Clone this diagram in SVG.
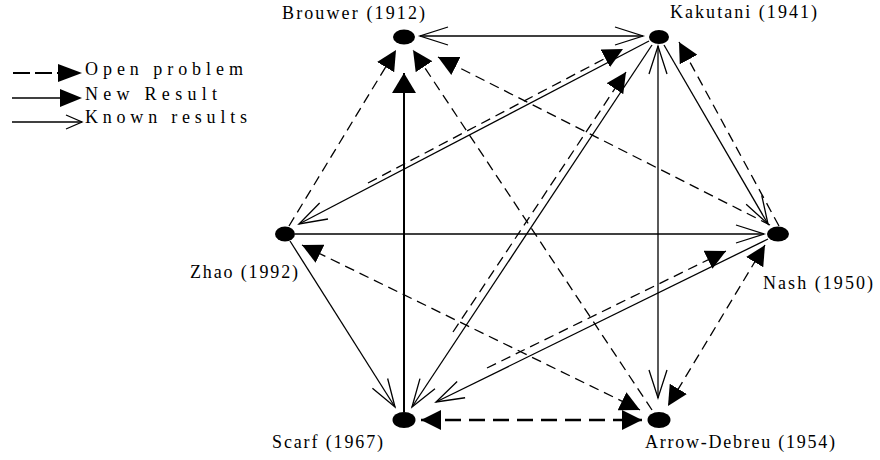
<svg xmlns="http://www.w3.org/2000/svg" width="880" height="460" viewBox="0 0 880 460">
<style>
.t{font-family:"Liberation Serif","Times New Roman",serif;font-size:18px;fill:#000}
.k{stroke:#000;stroke-width:1.3;fill:none}
.r{stroke:#000;stroke-width:2;fill:none}
.o{stroke:#000;stroke-width:1.3;fill:none;stroke-dasharray:10 6}
.ot{stroke:#000;stroke-width:2.6;fill:none;stroke-dasharray:16 8}
</style>
<defs>
<marker id="fa" markerUnits="userSpaceOnUse" viewBox="0 0 20 20" markerWidth="20" markerHeight="20" refX="20" refY="10" orient="auto-start-reverse"><path d="M0,0 L20,10 L0,20 z" fill="#000"/></marker>
<marker id="fb" markerUnits="userSpaceOnUse" viewBox="0 0 20 24" markerWidth="20" markerHeight="24" refX="20" refY="12" orient="auto"><path d="M0,0 L20,12 L0,24 z" fill="#000"/></marker>
<marker id="oa" markerUnits="userSpaceOnUse" viewBox="0 0 30 20" markerWidth="30" markerHeight="20" refX="28" refY="10" orient="auto-start-reverse" overflow="visible"><path d="M0,1 L28,10 L0,19" fill="none" stroke="#000" stroke-width="1.3"/></marker>
</defs>
<rect width="880" height="460" fill="#fff"/>
<g id="legend">
<line x1="13" y1="73" x2="60" y2="73" stroke="#000" stroke-width="2" stroke-dasharray="17 5"/>
<polygon points="58,64 82,73 58,82" fill="#000"/>
<text class="t" x="85" y="75" textLength="158" lengthAdjust="spacing">Open problem</text>
<line x1="12" y1="98" x2="62" y2="98" stroke="#000" stroke-width="1.6"/>
<polygon points="60,89 82,98 60,107" fill="#000"/>
<text class="t" x="85" y="100" textLength="132" lengthAdjust="spacing">New Result</text>
<line x1="12" y1="122" x2="82" y2="122" stroke="#000" stroke-width="1.3"/>
<polyline points="66,115 82,122 66,129" fill="none" stroke="#000" stroke-width="1.3"/>
<text class="t" x="85" y="123" textLength="162" lengthAdjust="spacing">Known results</text>
</g>
<g id="connectors">
<line class="k" x1="420" y1="36" x2="643" y2="36" marker-start="url(#oa)" marker-end="url(#oa)"/>
<line class="o" x1="289" y1="226" x2="396" y2="50" marker-end="url(#fa)"/>
<line class="r" x1="404" y1="412" x2="404" y2="73" marker-end="url(#fb)"/>
<line class="o" x1="652" y1="410" x2="413" y2="50" marker-end="url(#fa)"/>
<line class="o" x1="770" y1="225" x2="438" y2="57" marker-end="url(#fa)"/>
<line class="k" x1="649" y1="41" x2="299" y2="224" marker-end="url(#oa)"/>
<line class="o" x1="368" y1="183" x2="623" y2="49" marker-end="url(#fa)"/>
<line class="k" x1="295" y1="234" x2="764" y2="234" marker-end="url(#oa)"/>
<line class="o" x1="302" y1="245" x2="640" y2="410" marker-start="url(#fa)" marker-end="url(#fa)"/>
<line class="k" x1="290" y1="241" x2="395" y2="407" marker-end="url(#oa)"/>
<line class="k" x1="652" y1="45" x2="412" y2="407" marker-end="url(#oa)"/>
<line class="o" x1="453" y1="332" x2="626" y2="72" marker-end="url(#fa)"/>
<line class="k" x1="658" y1="46" x2="658" y2="398" marker-start="url(#oa)" marker-end="url(#oa)"/>
<line class="k" x1="664" y1="45" x2="768" y2="224" marker-end="url(#oa)"/>
<line class="o" x1="779" y1="226" x2="679" y2="42" marker-end="url(#fa)"/>
<line class="k" x1="768" y1="239" x2="436" y2="402" marker-end="url(#oa)"/>
<line class="o" x1="487" y1="368" x2="726" y2="251" marker-end="url(#fa)"/>
<line class="o" x1="765" y1="245" x2="668" y2="406" marker-start="url(#fa)" marker-end="url(#fa)"/>
<line class="ot" x1="421" y1="420" x2="642" y2="420" marker-start="url(#fa)" marker-end="url(#fa)"/>
</g>
<g id="brouwer"><ellipse cx="404" cy="37" rx="11" ry="7.5"/><text class="t" x="282" y="19" textLength="143" lengthAdjust="spacing">Brouwer (1912)</text></g>
<g id="kakutani"><ellipse cx="659" cy="37" rx="10" ry="7"/><text class="t" x="670" y="18" textLength="147" lengthAdjust="spacing">Kakutani (1941)</text></g>
<g id="zhao"><ellipse cx="285" cy="234" rx="10" ry="7.5"/><text class="t" x="190" y="278" textLength="108" lengthAdjust="spacing">Zhao (1992)</text></g>
<g id="nash"><ellipse cx="778" cy="234" rx="11" ry="7.5"/><text class="t" x="763" y="289" textLength="110" lengthAdjust="spacing">Nash (1950)</text></g>
<g id="scarf"><ellipse cx="404" cy="420" rx="11.5" ry="8"/><text class="t" x="272" y="448" textLength="111" lengthAdjust="spacing">Scarf (1967)</text></g>
<g id="arrow-debreu"><ellipse cx="659" cy="420" rx="11.5" ry="8"/><text class="t" x="645" y="448" textLength="190" lengthAdjust="spacing">Arrow-Debreu (1954)</text></g>
</svg>
